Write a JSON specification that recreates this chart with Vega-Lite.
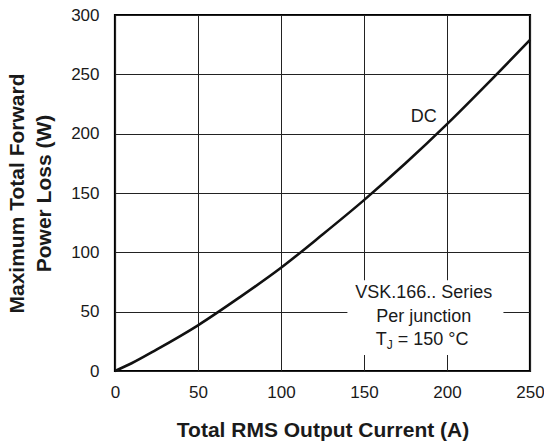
{
  "$schema": "https://vega.github.io/schema/vega-lite/v6.json",
  "autosize": "none",
  "padding": {"left": 115, "top": 15, "right": 14, "bottom": 75},
  "width": 415,
  "height": 356,
  "config": {
    "font": "Liberation Sans",
    "view": {"stroke": "#000", "strokeWidth": 2.2},
    "axis": {
      "grid": true,
      "gridColor": "#222",
      "gridWidth": 1,
      "gridOpacity": 1,
      "domain": false,
      "ticks": false,
      "labelFlush": false,
      "labelOverlap": false,
      "labelFont": "Liberation Sans",
      "labelFontSize": 17,
      "labelColor": "#1a1a1a",
      "titleFont": "Liberation Sans",
      "titleFontSize": 21,
      "titleFontWeight": "bold",
      "titleColor": "#1a1a1a"
    }
  },
  "datasets": {
    "curve": [
      {"i": 0, "p": 0},
      {"i": 10, "p": 6.5},
      {"i": 25, "p": 18},
      {"i": 50, "p": 38.5},
      {"i": 75, "p": 62},
      {"i": 100, "p": 87},
      {"i": 125, "p": 115},
      {"i": 150, "p": 144},
      {"i": 175, "p": 175},
      {"i": 200, "p": 208},
      {"i": 225, "p": 243},
      {"i": 250, "p": 279}
    ],
    "box": [{"x1": 140, "x2": 234, "y1": 13.5, "y2": 76.5}],
    "notes": [
      {"x": 186, "y": 65.5, "t": "VSK.166.. Series"},
      {"x": 186, "y": 45.5, "t": "Per junction"}
    ],
    "dc": [{"x": 186, "y": 214, "t": "DC"}],
    "tj": [{"x": 186, "y": 26, "t": "T", "s": "J", "r": "= 150 °C"}]
  },
  "layer": [
    {
      "data": {"name": "box"},
      "mark": {"type": "rect", "fill": "white", "stroke": null},
      "encoding": {
        "x": {"field": "x1", "type": "quantitative", "scale": {"domain": [0, 250], "nice": false}, "axis": {"values": [0, 50, 100, 150, 200, 250], "title": "Total RMS Output Current (A)", "labelPadding": 13, "titlePadding": 19}},
        "x2": {"field": "x2"},
        "y": {"field": "y1", "type": "quantitative", "scale": {"domain": [0, 300], "nice": false}, "axis": {"values": [0, 50, 100, 150, 200, 250, 300], "title": ["Maximum Total Forward", "Power Loss (W)"], "labelPadding": 16, "titlePadding": 16, "titleLineHeight": 27}},
        "y2": {"field": "y2"}
      }
    },
    {
      "data": {"name": "curve"},
      "mark": {"type": "line", "color": "#111", "strokeWidth": 2.6, "interpolate": "monotone"},
      "encoding": {
        "x": {"field": "i", "type": "quantitative"},
        "y": {"field": "p", "type": "quantitative"}
      }
    },
    {
      "data": {"name": "notes"},
      "mark": {"type": "text", "fontSize": 18, "color": "#1a1a1a", "align": "center", "baseline": "middle"},
      "encoding": {
        "x": {"field": "x", "type": "quantitative"},
        "y": {"field": "y", "type": "quantitative"},
        "text": {"field": "t"}
      }
    },
    {
      "data": {"name": "dc"},
      "mark": {"type": "text", "fontSize": 18, "color": "#1a1a1a", "align": "center", "baseline": "middle"},
      "encoding": {
        "x": {"field": "x", "type": "quantitative"},
        "y": {"field": "y", "type": "quantitative"},
        "text": {"field": "t"}
      }
    },
    {
      "data": {"name": "tj"},
      "mark": {"type": "text", "fontSize": 18, "color": "#1a1a1a", "align": "left", "baseline": "middle", "dx": -48},
      "encoding": {
        "x": {"field": "x", "type": "quantitative"},
        "y": {"field": "y", "type": "quantitative"},
        "text": {"field": "t"}
      }
    },
    {
      "data": {"name": "tj"},
      "mark": {"type": "text", "fontSize": 12, "color": "#1a1a1a", "align": "left", "baseline": "middle", "dx": -37, "dy": 5},
      "encoding": {
        "x": {"field": "x", "type": "quantitative"},
        "y": {"field": "y", "type": "quantitative"},
        "text": {"field": "s"}
      }
    },
    {
      "data": {"name": "tj"},
      "mark": {"type": "text", "fontSize": 18, "color": "#1a1a1a", "align": "left", "baseline": "middle", "dx": -26},
      "encoding": {
        "x": {"field": "x", "type": "quantitative"},
        "y": {"field": "y", "type": "quantitative"},
        "text": {"field": "r"}
      }
    }
  ]
}
